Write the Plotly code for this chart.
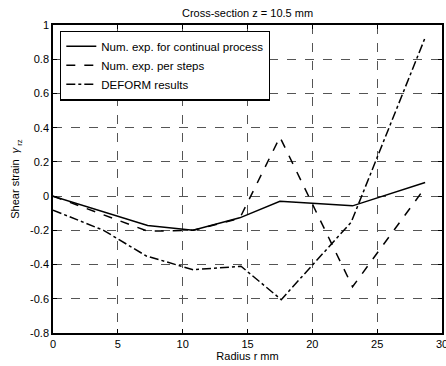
import plotly.graph_objects as go

# Data
r_cont = [0, 7.3, 10.8, 14.4, 17.5, 23.1, 28.7]
g_cont = [0, -0.172, -0.2, -0.127, -0.03, -0.057, 0.08]

r_steps = [0, 7.3, 10.8, 14.4, 17.5, 23.1, 28.7]
g_steps = [0, -0.205, -0.2, -0.13, 0.345, -0.53, 0.05]

r_deform = [0, 3.9, 7.2, 10.8, 14.5, 17.6, 23.0, 28.7]
g_deform = [-0.082, -0.2, -0.35, -0.43, -0.41, -0.605, -0.152, 0.926]

names = ["Num. exp. for continual process", "Num. exp. per steps", "DEFORM results"]

x_ticks = [0, 5, 10, 15, 20, 25, 30]
x_labels = ["0", "5", "10", "15", "20", "25", "30"]
y_ticks = [1, 0.8, 0.6, 0.4, 0.2, 0, -0.2, -0.4, -0.6, -0.8]
y_labels = ["1", "0.8", "0.6", "0.4", "0.2", "0", "-0.2", "-0.4", "-0.6", "-0.8"]

font = "Liberation Sans, Arial, sans-serif"

fig = go.Figure()
fig.add_trace(go.Scatter(x=r_cont, y=g_cont, mode="lines", name=names[0],
                         line=dict(color="black", width=1.5, dash="solid")))
fig.add_trace(go.Scatter(x=r_steps, y=g_steps, mode="lines", name=names[1],
                         line=dict(color="black", width=1.5, dash="dash")))
fig.add_trace(go.Scatter(x=r_deform, y=g_deform, mode="lines", name=names[2],
                         line=dict(color="black", width=1.5, dash="dashdot")))

axis_common = dict(
    showline=True, linecolor="black", linewidth=1.5, mirror="ticks",
    ticks="inside", ticklen=4, tickcolor="black", tickwidth=1,
    showgrid=True, gridcolor="#555555", griddash="dash", gridwidth=1,
    zeroline=False, tickfont=dict(family=font, size=11, color="black"),
    automargin=False, ticklabeloverflow="allow",
)

fig.update_layout(
    width=446, height=366,
    margin=dict(l=53, r=4, t=25, b=33),
    paper_bgcolor="white", plot_bgcolor="white",
    font=dict(family=font, size=11, color="black"),
    title=dict(text="Cross-section z = 10.5 mm", x=0.555, xanchor="center",
               y=1 - 13 / 366, yanchor="middle",
               font=dict(family=font, size=11, color="black")),
    xaxis=dict(range=[0, 30], tickvals=x_ticks, ticktext=x_labels,
               title=dict(text="Radius r mm", standoff=2,
                          font=dict(family=font, size=11)),
               **axis_common),
    yaxis=dict(range=[-0.8, 1], tickvals=y_ticks, ticktext=y_labels,
               title=dict(text="Shear strain  <i>γ</i><sub> rz</sub>", standoff=8,
                          font=dict(family=font, size=11)),
               **axis_common),
    showlegend=True,
    legend=dict(x=0.018, y=0.982, xanchor="left", yanchor="top",
                bgcolor="white", bordercolor="black", borderwidth=1.3,
                font=dict(family=font, size=11.5, color="black"),
                tracegroupgap=0, itemwidth=30),
)

fig.write_html("out.html")
